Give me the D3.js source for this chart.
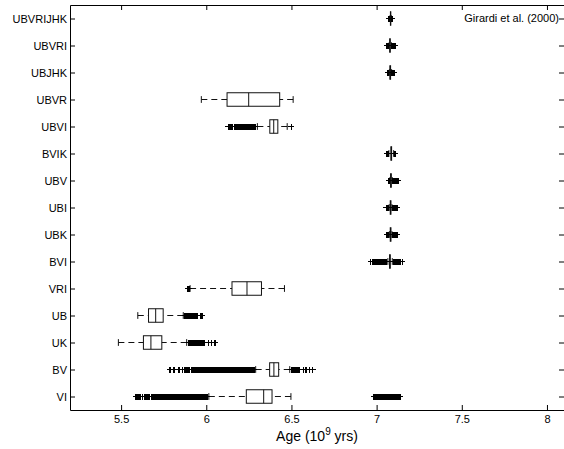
<!DOCTYPE html>
<html>
<head>
<meta charset="utf-8">
<script src="https://cdn.jsdelivr.net/npm/d3@7"></script>
<style>
  body { margin: 0; background: #fff; }
  svg { display: block; font-family: "Liberation Sans", Arial, Helvetica, sans-serif; }
  .box, .cap, .med, .whisk { stroke: #111; stroke-width: 1; fill: none; }
  .out { stroke: #000; stroke-width: 1.5; fill: none; shape-rendering: crispEdges; }
</style>
</head>
<body>
<div id="chart"></div>
<script>
// one row per filter combination, top to bottom
var groups = ["UBVRIJHK", "UBVRI", "UBJHK", "UBVR", "UBVI", "BVIK", "UBV", "UBI", "UBK", "BVI", "VRI", "UB", "UK", "BV", "VI"];

var whiskerLow  = [7.079, 7.074, 7.075, 5.971, 6.300, 7.072, 7.078, 7.074, 7.075, 7.066, 5.905, 5.598, 5.484, 6.290, 6.015];
var q1          = [7.081, 7.077, 7.078, 6.122, 6.373, 7.084, 7.082, 7.080, 7.080, 7.076, 6.151, 5.661, 5.631, 6.372, 6.235];
var medians     = [7.082, 7.078, 7.080, 6.249, 6.396, 7.086, 7.084, 7.082, 7.082, 7.078, 6.239, 5.703, 5.675, 6.397, 6.337];
var q3          = [7.083, 7.080, 7.082, 6.431, 6.420, 7.088, 7.086, 7.084, 7.084, 7.080, 6.324, 5.747, 5.739, 6.425, 6.386];
var whiskerHigh = [7.086, 7.086, 7.088, 6.510, 6.475, 7.100, 7.092, 7.090, 7.090, 7.092, 6.459, 5.865, 5.885, 6.490, 6.497];

// outliers (+ markers)
var outUBVRIJHK = [7.074, 7.077, 7.088, 7.091];
var outUBVRI = [7.061, 7.064, 7.067, 7.070, 7.089, 7.093, 7.097, 7.101, 7.105, 7.108];
var outUBJHK = [7.065, 7.068, 7.071, 7.091, 7.095, 7.099, 7.104];
var outUBVR = [];
var outUBVI = [6.130, 6.140, 6.152, 6.166, 6.174, 6.182, 6.190, 6.198, 6.206, 6.214, 6.222, 6.230, 6.238, 6.246, 6.254, 6.262, 6.270, 6.278, 6.286, 6.500];
var outBVIK = [7.060, 7.066, 7.106, 7.110];
var outUBV = [7.071, 7.075, 7.096, 7.101, 7.106, 7.111, 7.116, 7.122, 7.127];
var outUBI = [7.057, 7.062, 7.067, 7.071, 7.095, 7.100, 7.106, 7.112, 7.119];
var outUBK = [7.061, 7.066, 7.071, 7.095, 7.101, 7.107, 7.113, 7.119];
var outBVI = [6.965, 6.978, 6.990, 7.002, 7.010, 7.018, 7.026, 7.034, 7.042, 7.050, 7.058, 7.098, 7.106, 7.114, 7.122, 7.130, 7.140, 7.151];
var outVRI = [5.891, 5.900];
var outUB = [5.876, 5.884, 5.892, 5.900, 5.908, 5.916, 5.924, 5.932, 5.940, 5.947, 5.965, 5.976];
var outUK = [5.896, 5.904, 5.912, 5.920, 5.928, 5.936, 5.944, 5.952, 5.960, 5.968, 5.976, 5.986, 6.014, 6.032, 6.050];
var outBV = [5.786, 5.810, 5.840, 5.860, 5.875, 5.888, 5.900,
  5.912, 5.920, 5.928, 5.936, 5.944, 5.952, 5.960, 5.968, 5.976, 5.984, 5.992, 6.000, 6.008, 6.016, 6.024, 6.032,
  6.040, 6.048, 6.056, 6.064, 6.072, 6.080, 6.088, 6.096, 6.104, 6.112, 6.120, 6.128, 6.136, 6.144, 6.152, 6.160,
  6.168, 6.176, 6.184, 6.192, 6.200, 6.208, 6.216, 6.224, 6.232, 6.240, 6.248, 6.256, 6.264, 6.272, 6.280,
  6.500, 6.508, 6.516, 6.524, 6.532, 6.540, 6.548, 6.570, 6.585, 6.605, 6.625];
var outVI = [5.586, 5.598, 5.610, 5.625, 5.640, 5.652, 5.665, 5.680, 5.690,
  5.700, 5.708, 5.716, 5.724, 5.732, 5.740, 5.748, 5.756, 5.764, 5.772, 5.780, 5.788, 5.796, 5.804, 5.812, 5.820,
  5.828, 5.836, 5.844, 5.852, 5.860, 5.868, 5.876, 5.884, 5.892, 5.900, 5.908, 5.916, 5.924, 5.932, 5.940, 5.948,
  5.956, 5.964, 5.972, 5.980, 5.988, 5.996, 6.004,
  6.984, 6.995, 7.004, 7.012, 7.020, 7.028, 7.036, 7.044, 7.052, 7.060, 7.068, 7.076, 7.084, 7.092, 7.100, 7.108,
  7.116, 7.124, 7.132, 7.140];

var outliers = [outUBVRIJHK, outUBVRI, outUBJHK, outUBVR, outUBVI, outBVIK, outUBV, outUBI, outUBK, outBVI, outVRI, outUB, outUK, outBV, outVI];

var xTicks = [5.5, 6, 6.5, 7, 7.5, 8];
var xTickLabels = ["5.5", "6", "6.5", "7", "7.5", "8"];

var w = 564, h = 449;
var m = { top: 5, right: 0, bottom: 39, left: 70 };

var svg = d3.select("#chart").append("svg")
  .attr("width", w)
  .attr("height", h);

var x = d3.scaleLinear().domain([5.2, 8.1]).range([m.left, w - m.right]);
var y = d3.scaleLinear().domain([0.5, groups.length + 0.5]).range([m.top, h - m.bottom]);

var rows = groups.map(function(g, i) {
  return { name: g, pos: i + 1, lo: whiskerLow[i], q1: q1[i], med: medians[i], q3: q3[i], hi: whiskerHigh[i], out: outliers[i] };
});

var half = (y(1.25) - y(1));      // half box height
var capHalf = half / 2;

// axes, ticks pointing inward like the matlab frame
var fontSize = 11;
svg.append("g")
  .attr("transform", "translate(0," + y.range()[1] + ")")
  .call(d3.axisBottom(x).tickValues(xTicks).tickFormat(function(d, i) { return xTickLabels[i]; }).tickSizeInner(-5).tickSizeOuter(0).tickPadding(5));
svg.append("g")
  .attr("transform", "translate(0," + y.range()[0] + ")")
  .call(d3.axisTop(x).tickValues(xTicks).tickFormat("").tickSizeInner(-5).tickSizeOuter(0));
svg.append("g")
  .attr("transform", "translate(" + x.range()[0] + ",0)")
  .call(d3.axisLeft(y).tickValues(rows.map(function(r) { return r.pos; })).tickFormat(function(d) { return groups[d - 1]; }).tickSizeInner(-5).tickSizeOuter(0).tickPadding(3));
svg.append("g")
  .attr("transform", "translate(" + x.range()[1] + ",0)")
  .call(d3.axisRight(y).tickValues(rows.map(function(r) { return r.pos; })).tickFormat("").tickSizeInner(-5).tickSizeOuter(0));

svg.selectAll(".tick text")
  .attr("font-size", fontSize)
  .attr("font-family", "Liberation Sans, Arial, Helvetica, sans-serif")
  .attr("fill", "#000");
svg.selectAll(".domain, .tick line").attr("stroke", "#000");

var g = svg.selectAll(".row").data(rows).enter().append("g").attr("class", "row");

// whiskers (dashed)
g.append("line").attr("class", "whisk")
  .attr("x1", function(d) { return x(d.lo); }).attr("x2", function(d) { return x(d.q1); })
  .attr("y1", function(d) { return y(d.pos); }).attr("y2", function(d) { return y(d.pos); })
  .attr("stroke-dasharray", "6,4");
g.append("line").attr("class", "whisk")
  .attr("x1", function(d) { return x(d.hi); }).attr("x2", function(d) { return x(d.q3); })
  .attr("y1", function(d) { return y(d.pos); }).attr("y2", function(d) { return y(d.pos); })
  .attr("stroke-dasharray", "6,4");

// whisker caps
g.selectAll(".cap").data(function(d) { return [{ v: d.lo, pos: d.pos }, { v: d.hi, pos: d.pos }]; })
  .enter().append("line").attr("class", "cap")
  .attr("x1", function(d) { return x(d.v); }).attr("x2", function(d) { return x(d.v); })
  .attr("y1", function(d) { return y(d.pos) - capHalf; }).attr("y2", function(d) { return y(d.pos) + capHalf; });

// box and median
g.append("rect").attr("class", "box")
  .attr("x", function(d) { return x(d.q1); })
  .attr("width", function(d) { return x(d.q3) - x(d.q1); })
  .attr("y", function(d) { return y(d.pos) - half; })
  .attr("height", 2 * half)
  .attr("fill", "none");
g.append("line").attr("class", "med")
  .attr("x1", function(d) { return x(d.med); }).attr("x2", function(d) { return x(d.med); })
  .attr("y1", function(d) { return y(d.pos) - half; }).attr("y2", function(d) { return y(d.pos) + half; });

// outliers as + markers
var ms = 3;
g.selectAll(".out").data(function(d) { return d.out.map(function(v) { return { v: v, pos: d.pos }; }); })
  .enter().append("path").attr("class", "out")
  .attr("d", function(d) {
    var cx = x(d.v), cy = y(d.pos);
    return "M" + (cx - ms) + "," + cy + "H" + (cx + ms) + "M" + cx + "," + (cy - ms) + "V" + (cy + ms);
  });

// x label
var lab = svg.append("text")
  .attr("x", (x.range()[0] + x.range()[1]) / 2)
  .attr("y", h - 8)
  .attr("text-anchor", "middle")
  .attr("font-size", 14);
lab.append("tspan").text("Age (10");
lab.append("tspan").attr("dy", -6).attr("font-size", 10).text("9");
lab.append("tspan").attr("dy", 6).text(" yrs)");

svg.append("text")
  .attr("x", w - 5)
  .attr("y", y(1))
  .attr("dy", "0.35em")
  .attr("text-anchor", "end")
  .attr("font-size", 11)
  .text("Girardi et al. (2000)");
</script>
</body>
</html>
